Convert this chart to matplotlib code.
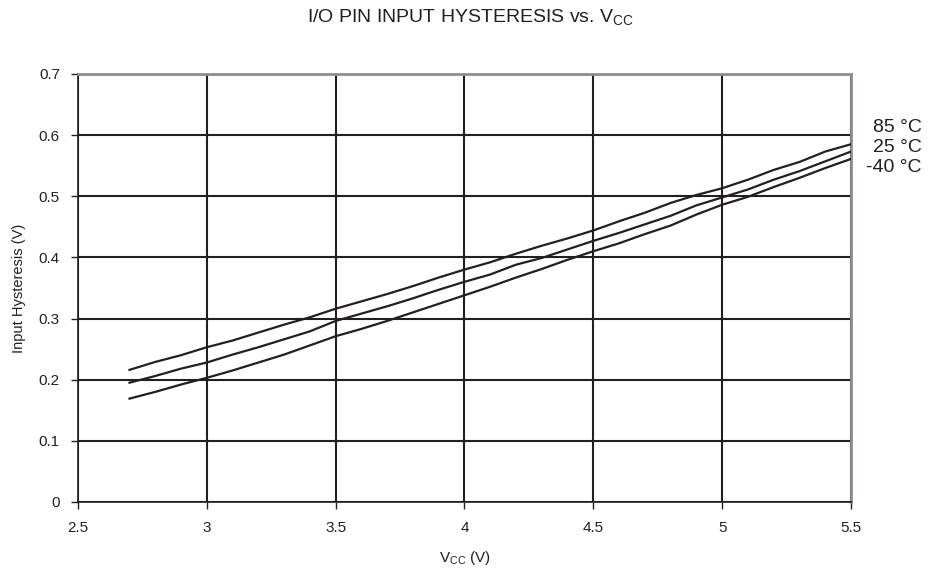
import matplotlib
matplotlib.use("Agg")
import matplotlib.pyplot as plt
import numpy as np

plt.rcParams['font.family'] = ['Liberation Sans', 'DejaVu Sans']

vcc = [2.7, 2.8, 2.9, 3.0, 3.1, 3.2, 3.3, 3.4, 3.5, 3.6, 3.7, 3.8, 3.9, 4.0,
       4.1, 4.2, 4.3, 4.4, 4.5, 4.6, 4.7, 4.8, 4.9, 5.0, 5.1, 5.2, 5.3, 5.4, 5.5]

hyst_85 = [0.216, 0.229, 0.240, 0.253, 0.264, 0.277, 0.290, 0.302, 0.316, 0.328,
           0.340, 0.353, 0.367, 0.380, 0.392, 0.406, 0.419, 0.431, 0.444, 0.459,
           0.473, 0.489, 0.502, 0.513, 0.527, 0.543, 0.556, 0.573, 0.585]
hyst_25 = [0.195, 0.206, 0.218, 0.228, 0.241, 0.253, 0.266, 0.279, 0.296, 0.308,
           0.320, 0.333, 0.347, 0.360, 0.372, 0.388, 0.399, 0.413, 0.427, 0.440,
           0.454, 0.468, 0.485, 0.498, 0.511, 0.527, 0.541, 0.557, 0.573]
hyst_m40 = [0.169, 0.180, 0.192, 0.203, 0.215, 0.228, 0.241, 0.256, 0.271, 0.283,
            0.296, 0.310, 0.324, 0.338, 0.352, 0.367, 0.381, 0.396, 0.410, 0.423,
            0.438, 0.452, 0.470, 0.486, 0.499, 0.515, 0.530, 0.546, 0.561]

labels = ['85 °C', '25 °C', '-40 °C']
xticks = [2.5, 3, 3.5, 4, 4.5, 5, 5.5]
yticks = [0, 0.1, 0.2, 0.3, 0.4, 0.5, 0.6, 0.7]

fig = plt.figure(figsize=(9.37, 5.73), dpi=100)
ax = fig.add_axes([0.0832, 0.124, 0.825, 0.747])

for y in [hyst_85, hyst_25, hyst_m40]:
    ax.plot(vcc, y, color='#231f20', lw=1.6, zorder=3)

ax.set_xlim(2.5, 5.5)
ax.set_ylim(0, 0.7)
ax.set_xticks(xticks)
ax.set_xticklabels(['2.5', '3', '3.5', '4', '4.5', '5', '5.5'])
ax.set_yticks(yticks)
ax.set_yticklabels(['0', '0.1', '0.2', '0.3', '0.4', '0.5', '0.6', '0.7'])
ax.grid(True, color='#231f20', lw=1.5)
ax.set_axisbelow(True)
ax.tick_params(direction='out', length=5, width=1, color='#231f20',
               labelsize=11, labelcolor='#231f20')
ax.tick_params(axis='x', pad=8.5)
ax.tick_params(axis='y', pad=8)

for side in ['left', 'bottom']:
    ax.spines[side].set_color('#231f20')
    ax.spines[side].set_linewidth(1.2)
for side in ['top', 'right']:
    ax.spines[side].set_color('#8a8f94')
    ax.spines[side].set_linewidth(2)

ax.set_xlabel(r'V$_\mathregular{CC}$ (V)', fontsize=11, color='#231f20', labelpad=10)
ax.set_ylabel('Input Hysteresis (V)', fontsize=10.5, color='#231f20', labelpad=9)

fig.text(0.502, 1 - 18 / 573, r'I/O PIN INPUT HYSTERESIS vs. V$_\mathregular{CC}$',
         ha='center', va='center', fontsize=14, color='#231f20')

label_y = [127, 147, 167]
for lab, py in zip(labels, label_y):
    fig.text(922 / 937, 1 - py / 573, lab, ha='right', va='center',
             fontsize=14, color='#231f20')

fig.savefig('out.png', dpi=100)
